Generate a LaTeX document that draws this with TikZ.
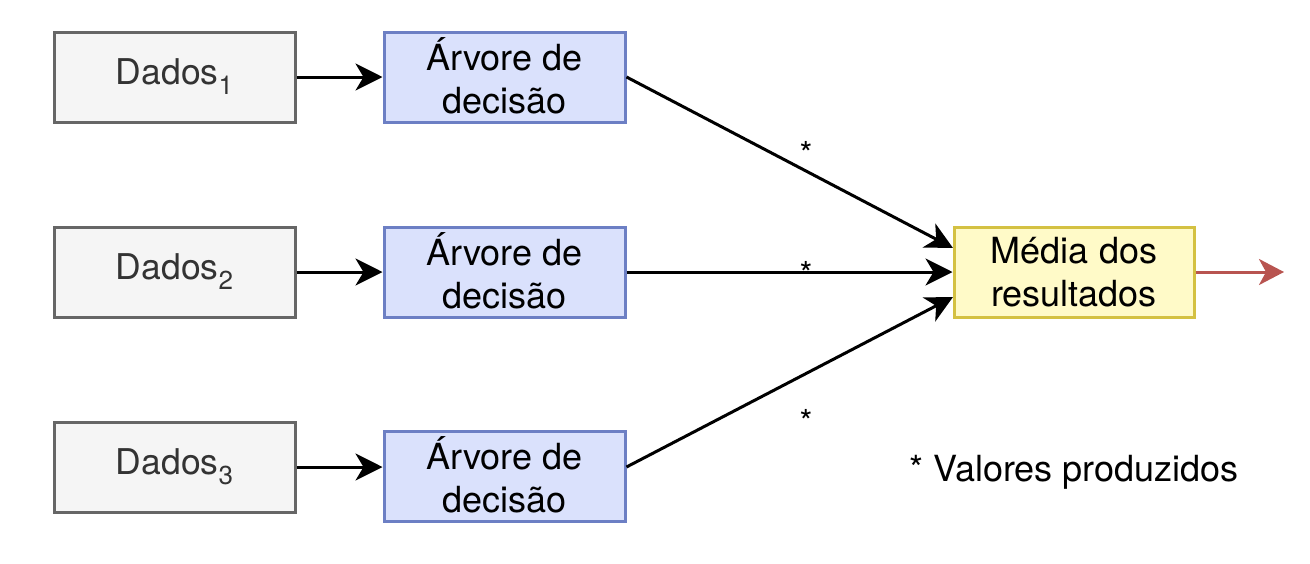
\documentclass[tikz,border=0pt]{standalone}
\usepackage{fontspec}
\setmainfont{TeX Gyre Heros}
\usetikzlibrary{arrows.meta}
\definecolor{dfill}{HTML}{F5F5F5}
\definecolor{dline}{HTML}{666666}
\definecolor{dtext}{HTML}{333333}
\definecolor{afill}{HTML}{DAE1FC}
\definecolor{aline}{HTML}{6C7FC4}
\definecolor{mfill}{HTML}{FFFAC8}
\definecolor{mline}{HTML}{D4C142}
\definecolor{rline}{HTML}{B85450}
\newcommand{\subsc}[1]{\raisebox{-10pt}{\fontsize{26}{30}\selectfont #1}}
\tikzset{
  box/.style={draw, line width=3pt, minimum width=241pt, minimum height=90pt, inner sep=0pt, align=center},
  databox/.style={box, fill=dfill, draw=dline, text=dtext, font=\fontsize{35.5}{42}\selectfont},
  treebox/.style={box, fill=afill, draw=aline, font=\fontsize{36}{42.5}\selectfont},
  meanbox/.style={box, fill=mfill, draw=mline, font=\fontsize{36}{42.5}\selectfont},
  conn/.style={line width=3pt, -{Stealth[length=27pt, width=27pt, inset=8pt]}},
  star/.style={font=\fontsize{33}{36}\selectfont, inner sep=0pt}
}
\begin{document}
\begin{tikzpicture}[x=1pt, y=-1pt]
\useasboundingbox (0,0) rectangle (1310,563);
\node[databox] (d1) at (174.5,77) {Dados\subsc{1}};
\node[databox] (d2) at (174.5,272) {Dados\subsc{2}};
\node[databox] (d3) at (174.5,467) {Dados\subsc{3}};
\node[treebox] (a1) at (504.5,77) {\raisebox{3pt}{Árvore de}\\\raisebox{3pt}{decisão}};
\node[treebox] (a2) at (504.5,272) {\raisebox{3pt}{Árvore de}\\\raisebox{3pt}{decisão}};
\node[treebox] (a3) at (504.5,476) {\raisebox{3pt}{Árvore de}\\\raisebox{3pt}{decisão}};
\node[meanbox, minimum width=240pt] (m) at (1074,272) {Média dos\\resultados};
\coordinate (out) at (1284,272);
\coordinate (m1) at (953,248);
\coordinate (m3) at (953,297);
\coordinate (a3o) at (a3.east |- d3.east);
\draw[conn] (d1.east) -- (a1.west);
\draw[conn] (d2.east) -- (a2.west);
\draw[conn] (d3.east) -- (d3.east -| a3.west);
\draw[conn] (a1.east) -- (m1);
\draw[conn] (a2.east) -- (m.west);
\draw[conn] (a3o) -- (m3);
\draw[line width=3pt, draw=rline, -{Stealth[length=25pt, width=26pt, inset=7pt]}] (m.east) -- (out);
\node[star] (s1) at (806,153) {*};
\node[star] (s2) at (806,273) {*};
\node[star] (s3) at (806,421) {*};
\node[font=\fontsize{36}{42}\selectfont, inner sep=0pt] (legend) at (1074,472) {* Valores produzidos};
\end{tikzpicture}
\end{document}
